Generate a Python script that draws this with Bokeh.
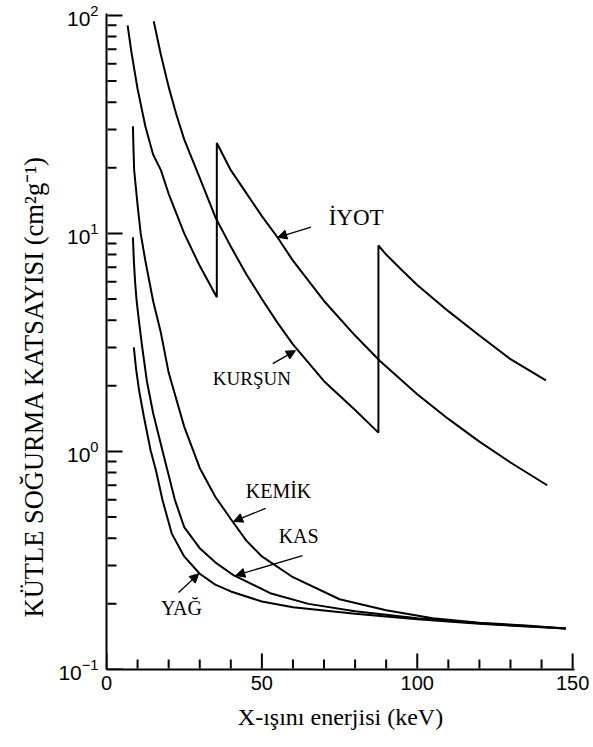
import math
from bokeh.plotting import figure
from bokeh.models import Range1d, Arrow, NormalHead, Label, Title, FixedTicker
from bokeh.embed import file_html
from bokeh.resources import INLINE

# ---- data (energy keV, mass attenuation cm^2/g) ----
iodine_x = [6.8, 8, 10, 12.5, 15, 17.5, 20, 25, 30, 35.5,
            35.5, 40, 45, 50, 55, 60, 70, 80, 88, 100, 110, 120, 130, 141.8]
iodine_y = [90, 68, 46, 31, 23, 19.5, 15.2, 10, 7.1, 5.1,
            26, 19.5, 15.3, 12, 9.6, 7.5, 4.9, 3.4, 2.6, 1.83, 1.41, 1.11, 0.89, 0.70]

lead_x = [15.2, 17.5, 20, 22.5, 25, 30, 35, 40, 45, 50, 55, 60, 70, 80, 87.5,
          87.5, 90, 95, 100, 110, 120, 130, 141.4]
lead_y = [94, 66, 47, 35, 27, 18, 11.9, 8.7, 6.5, 5.0, 3.9, 3.1, 2.1, 1.55, 1.22,
          8.8, 8.0, 6.8, 5.8, 4.4, 3.4, 2.65, 2.12]

bone_x = [8.5, 8.7, 8.9, 10, 11, 12.5, 15, 17.5, 20, 25, 30, 35, 40, 45, 50,
          60, 75, 90, 105, 120, 135, 147.8]
bone_y = [31, 24, 19.5, 13.5, 10, 7.5, 4.9, 3.5, 2.3, 1.3, 0.84, 0.62, 0.49, 0.39, 0.33,
          0.265, 0.21, 0.187, 0.172, 0.164, 0.159, 0.154]

muscle_x = [8.5, 8.8, 9.2, 9.7, 10.4, 11.5, 13, 15, 18, 19.6, 22, 25, 30, 35, 41,
            53, 65, 80, 100, 120, 147.8]
muscle_y = [9.6, 7.5, 6.0, 4.9, 4.0, 3.0, 2.1, 1.5, 1.01, 0.82, 0.6, 0.45, 0.36, 0.31, 0.27,
            0.223, 0.2, 0.185, 0.172, 0.163, 0.154]

fat_x = [8.8, 9.5, 10.5, 12, 14.2, 15.9, 18, 21, 25, 30, 35, 40, 50, 60, 80,
         100, 120, 147.8]
fat_y = [3.0, 2.4, 1.9, 1.45, 1.01, 0.82, 0.6, 0.42, 0.33, 0.275, 0.245, 0.228, 0.205,
         0.193, 0.18, 0.17, 0.162, 0.154]

series = [(iodine_x, iodine_y), (lead_x, lead_y), (bone_x, bone_y),
          (muscle_x, muscle_y), (fat_x, fat_y)]

# axis ticks
x_major_ticks = [0, 50, 100, 150]
x_minor_ticks = [10, 20, 30, 40, 60, 70, 80, 90, 110, 120, 130, 140]
y_major_ticks = [0.1, 1, 10, 100]
y_minor_ticks = [0.2, 0.3, 0.4, 0.5, 0.6, 0.7, 0.8, 0.9,
                 2, 3, 4, 5, 6, 7, 8, 9,
                 20, 30, 40, 50, 60, 70, 80, 90]

# annotation labels: text, label anchor (x, y), arrow tail, arrow tip
label_texts = ["İYOT", "KURŞUN", "KEMİK", "KAS", "YAĞ"]
label_pos = [(71.5, 11.8), (34.2, 2.15), (44.8, 0.662), (55.4, 0.409), (17.5, 0.191)]
label_sizes = ["23px", "19px", "20px", "20px", "20px"]
arrow_tail = [(65.8, 10.7), (53.5, 2.53), (51.2, 0.548), (63.1, 0.333), (23.2, 0.2255)]
arrow_tip = [(55.1, 9.6), (60.8, 2.9), (40.9, 0.478), (41.6, 0.27), (29.7, 0.275)]

x_title = "X-ışını enerjisi (keV)"
y_title = "KÜTLE SOĞURMA KATSAYISI  (cm²g⁻¹)"

# ---- layout ----
W, H = 593, 745
BL, BR, BT, BB = 106, 19, 13, 76
x_lo, x_hi = 0, 150.6
y_lo, y_hi = 0.1, 102
MAJOR_LEN, MINOR_LEN = 15, 9
GAP = 1

p = figure(width=W, height=H, x_range=Range1d(x_lo, x_hi), y_range=Range1d(y_lo, y_hi),
           y_axis_type="log", output_backend="svg", toolbar_location=None,
           min_border_left=BL, min_border_right=BR, min_border_top=BT, min_border_bottom=BB)
p.outline_line_color = None
p.xgrid.grid_line_color = None
p.ygrid.grid_line_color = None
p.background_fill_color = "white"
p.border_fill_color = "white"

for xs, ys in series:
    p.line(xs, ys, line_color="black", line_width=2)

# inward tick marks starting just inside the frame (lengths in pixels)
px_per_x = (W - BL - BR) / (x_hi - x_lo)
px_per_dec = (H - BT - BB) / (math.log10(y_hi) - math.log10(y_lo))
nan = float("nan")
tx, ty = [], []
for ticks, length in ((x_major_ticks, MAJOR_LEN), (x_minor_ticks, MINOR_LEN)):
    y0 = y_lo * 10 ** (GAP / px_per_dec)
    y1 = y_lo * 10 ** ((length + GAP) / px_per_dec)
    for t in ticks:
        tx += [t, t, nan]
        ty += [y0, y1, nan]
for ticks, length in ((y_major_ticks, MAJOR_LEN), (y_minor_ticks, MINOR_LEN)):
    x0 = x_lo + GAP / px_per_x
    x1 = x_lo + (length + GAP) / px_per_x
    for t in ticks:
        tx += [x0, x1, nan]
        ty += [t, t, nan]
p.line(tx, ty, line_color="black", line_width=2)

for ax in (p.xaxis[0], p.yaxis[0]):
    ax.axis_line_width = 2
    ax.axis_line_color = "black"
    ax.major_tick_in = 0
    ax.minor_tick_in = 0
    ax.major_tick_out = 0
    ax.minor_tick_out = 0
    ax.major_tick_line_color = None
    ax.minor_tick_line_color = None
    ax.major_label_text_font = "Liberation Sans"
    ax.major_label_text_color = "black"

p.xaxis[0].ticker = FixedTicker(ticks=x_major_ticks, minor_ticks=x_minor_ticks)
p.xaxis[0].major_label_text_font_size = "20px"
p.xaxis[0].major_label_standoff = 6
p.xaxis[0].axis_label = x_title
p.xaxis[0].axis_label_text_font = "Liberation Serif"
p.xaxis[0].axis_label_text_font_style = "normal"
p.xaxis[0].axis_label_text_font_size = "24px"
p.xaxis[0].axis_label_text_color = "black"
p.xaxis[0].axis_label_standoff = 11

p.yaxis[0].ticker = FixedTicker(ticks=y_major_ticks, minor_ticks=y_minor_ticks)
p.yaxis[0].major_label_text_font_size = "21px"
p.yaxis[0].major_label_standoff = 8

p.add_layout(Title(text=y_title, align="left", offset=52, standoff=14,
                   text_font="Liberation Serif", text_font_size="26.5px",
                   text_font_style="normal", text_color="black"), "left")

for t, (lx, ly), sz, (ax0, ay0), (hx, hy) in zip(label_texts, label_pos, label_sizes,
                                                  arrow_tail, arrow_tip):
    p.add_layout(Label(x=lx, y=ly, text=t, text_align="left", text_baseline="middle",
                       text_font="Liberation Serif", text_font_size=sz, text_color="black"))
    p.add_layout(Arrow(end=NormalHead(size=9, fill_color="black", line_color="black"),
                       x_start=ax0, y_start=ay0, x_end=hx, y_end=hy,
                       line_color="black", line_width=1.3))

open("out.html", "w").write(file_html(p, INLINE))
